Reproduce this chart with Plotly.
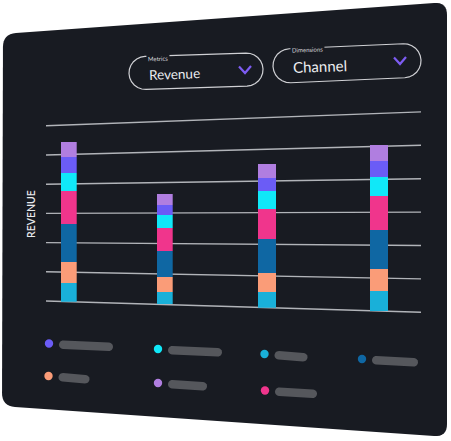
import math
import plotly.graph_objs as go

W, H = 451, 441

# data: revenue per period, stacked by channel (bottom to top)
periods = ["P1", "P2", "P3", "P4"]
channels = ["Ch1", "Ch2", "Ch3", "Ch4", "Ch5", "Ch6", "Ch7"]
teal = [6.5, 4.1, 5.1, 5.9]
salmon = [7.1, 4.9, 6.1, 6.8]
blue = [12.8, 8.4, 10.7, 11.8]
pink = [11.3, 7.4, 9.5, 10.2]
cyan = [6.1, 4.4, 5.4, 5.8]
violet = [5.2, 3.3, 4.2, 4.9]
lavender = [5.3, 3.5, 4.4, 5.0]
series = [teal, salmon, blue, pink, cyan, violet, lavender]
colors = ["#19b0d9", "#fa9c78", "#0f67a3", "#f0358c", "#10e8f8", "#6b5cf6", "#b07ee0"]
tick_vals = [0, 10, 20, 30, 40, 50, 60]

CARD = "#181b22"


def P(x, y):
    return x / W, 1 - y / H


def path_of(pts):
    s = ""
    for i, (x, y) in enumerate(pts):
        px, py = P(x, y)
        s += ("M" if i == 0 else "L") + "%.5f,%.5f " % (px, py)
    return s + "Z"


def rounded_quad(corners, r):
    pts = []
    n = len(corners)
    for i in range(n):
        c = corners[i]
        a = corners[i - 1]
        b = corners[(i + 1) % n]
        da = math.hypot(a[0] - c[0], a[1] - c[1])
        db = math.hypot(b[0] - c[0], b[1] - c[1])
        p0 = (c[0] + (a[0] - c[0]) * r / da, c[1] + (a[1] - c[1]) * r / da)
        p1 = (c[0] + (b[0] - c[0]) * r / db, c[1] + (b[1] - c[1]) * r / db)
        for k in range(9):
            t = k / 8
            x = (1 - t) ** 2 * p0[0] + 2 * (1 - t) * t * c[0] + t ** 2 * p1[0]
            y = (1 - t) ** 2 * p0[1] + 2 * (1 - t) * t * c[1] + t ** 2 * p1[1]
            pts.append((x, y))
    return pts


def stadium(left, right, h):
    r = h / 2
    ang = math.atan2(right[1] - left[1], right[0] - left[0])
    ux, uy = math.cos(ang), math.sin(ang)
    a = (left[0] + ux * r, left[1] + uy * r)
    b = (right[0] - ux * r, right[1] - uy * r)
    pts = []
    for k in range(13):
        th = ang - math.pi / 2 + math.pi * k / 12
        pts.append((b[0] + r * math.cos(th), b[1] + r * math.sin(th)))
    for k in range(13):
        th = ang + math.pi / 2 + math.pi * k / 12
        pts.append((a[0] + r * math.cos(th), a[1] + r * math.sin(th)))
    return pts


fig = go.Figure()
shapes = []
annotations = []

# card
shapes.append(dict(type="path", xref="paper", yref="paper", layer="below",
                   path=path_of(rounded_quad([(3, 34), (447, 2), (447, 437), (2, 406)], 13)),
                   fillcolor=CARD, line=dict(width=0)))

# perspective grid
GX0, GX1 = 46, 421


def grid_y(x, k):
    t = (x - GX0) / (GX1 - GX0)
    base = 301 + 11.3 * t
    step = 29.2 + 4.2 * t
    return base - step * k, base, step


for k in range(len(tick_vals)):
    x0, y0 = P(GX0, grid_y(GX0, k)[0])
    x1, y1 = P(GX1, grid_y(GX1, k)[0])
    shapes.append(dict(type="line", xref="paper", yref="paper", layer="below",
                       x0=x0, y0=y0, x1=x1, y1=y1,
                       line=dict(color="rgba(205,207,212,0.85)", width=1.4)))

# one small subplot per bar so the bars follow the skewed grid
bar_px = [(61, 76.7), (156.7, 172.7), (258, 276), (370, 388)]
for i, p in enumerate(periods):
    xa, xb = bar_px[i]
    xc = (xa + xb) / 2
    _, base, step = grid_y(xc, 0)
    top = base - step * (len(tick_vals) - 1)
    for s, vals in enumerate(series):
        fig.add_trace(go.Bar(x=[p], y=[vals[i]], name=channels[s],
                             marker=dict(color=colors[s], line=dict(width=0)),
                             xaxis="x%d" % (i + 1), yaxis="y%d" % (i + 1),
                             hoverinfo="skip"))
    fig.layout["xaxis%d" % (i + 1)] = dict(domain=[xa / W, xb / W], visible=False,
                                           range=[-0.5, 0.5], fixedrange=True)
    fig.layout["yaxis%d" % (i + 1)] = dict(domain=[1 - base / H, 1 - top / H], visible=False,
                                           range=[tick_vals[0], tick_vals[-1]], fixedrange=True,
                                           anchor="x%d" % (i + 1))

# dropdowns
pills = [((129, 73.5), (263, 69), 33), ((273, 66.5), (421, 60), 34)]
for left, right, h in pills:
    shapes.append(dict(type="path", xref="paper", yref="paper", layer="below",
                       path=path_of(stadium(left, right, h)),
                       fillcolor=CARD, line=dict(color="#cfd0d4", width=1.2)))

for cx, cy in [(245, 70), (400, 61)]:
    pts = [(cx - 6, cy - 3.5), (cx, cy + 3), (cx + 6, cy - 4)]
    s = ""
    for j, (x, y) in enumerate(pts):
        px, py = P(x, y)
        s += ("M" if j == 0 else "L") + "%.5f,%.5f " % (px, py)
    shapes.append(dict(type="path", xref="paper", yref="paper", path=s,
                       line=dict(color="#7d5cf2", width=2.2)))

font = "Lato, Inter, sans-serif"
texts = [
    ("Metrics", 146, 58.5, 6, "#d8d8dc", True),
    ("Dimensions", 290, 49.5, 6, "#d8d8dc", True),
    ("Revenue", 147, 74, 13.5, "#ecedf0", False),
    ("Channel", 291, 66, 15, "#ecedf0", False),
]
for t, x, y, size, col, bg in texts:
    px, py = P(x, y)
    annotations.append(dict(text=t, x=px, y=py, xref="paper", yref="paper",
                            xanchor="left", yanchor="middle", showarrow=False,
                            textangle=-2, font=dict(family=font, size=size, color=col),
                            bgcolor=CARD if bg else None, borderpad=1))

px, py = P(23, 214)
annotations.append(dict(text="REVENUE", x=px, y=py, xref="paper", yref="paper",
                        showarrow=False, textangle=-90,
                        font=dict(family=font, size=10.5, color="#e8e9ec", weight=600)))

# legend (placeholder labels)
legend_order = [5, 4, 0, 2, 1, 6, 3]
legend_pos = [(49, 343.5, 54), (158, 349, 54), (264.5, 354, 33), (362, 359, 46),
              (48.5, 376, 31), (158, 383, 39), (265, 390.5, 42)]
for s, (x, y, ln) in zip(legend_order, legend_pos):
    r = 4.2
    x0, y0 = P(x - r, y + r)
    x1, y1 = P(x + r, y - r)
    shapes.append(dict(type="circle", xref="paper", yref="paper",
                       x0=x0, y0=y0, x1=x1, y1=y1,
                       fillcolor=colors[s], line=dict(width=0)))
    shapes.append(dict(type="path", xref="paper", yref="paper",
                       path=path_of(stadium((x + 10, y + 1), (x + 10 + ln, y + 3.5), 8.5)),
                       fillcolor="#55575c", line=dict(width=0)))

fig.update_layout(
    width=W, height=H,
    margin=dict(l=0, r=0, t=0, b=0),
    paper_bgcolor="white",
    plot_bgcolor="rgba(0,0,0,0)",
    barmode="stack", bargap=0,
    showlegend=False,
    shapes=shapes,
    annotations=annotations,
)

fig.write_html("out.html", config={"displayModeBar": False},
               post_script="document.body.style.margin='0';")
